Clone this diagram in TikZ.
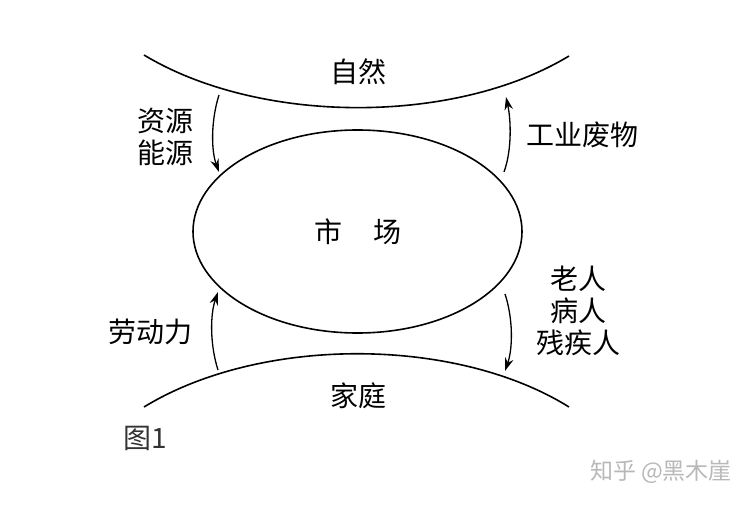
\documentclass[tikz,border=0pt]{standalone}
\usepackage{fontspec}
\newfontfamily\cjk{Noto Sans CJK SC}
\usetikzlibrary{arrows.meta, positioning}

\begin{document}
\begin{tikzpicture}[x=1pt, y=-1pt, >={Stealth[length=13pt, width=8.5pt]},
    flow/.style={->, line width=1.3pt},
    rim/.style={line width=1.6pt},
    lbl/.style={font=\cjk\fontsize{28}{32}\selectfont, align=center, inner sep=0pt}]
    \useasboundingbox (0,0) rectangle (749,505);
    % the two outer curves and the market
    \coordinate (natL) at (144,55);
    \coordinate (natR) at (569,56);
    \coordinate (famL) at (144,407);
    \coordinate (famR) at (569,407);
    \draw[rim] (natL) .. controls (260,125) and (455,125) .. (natR);
    \draw[rim] (famL) .. controls (260,336) and (455,336) .. (famR);
    \draw[rim] (357.5,231.5) ellipse (164.5 and 101.5);
    \node[lbl] (market) at (358,232) {市\hspace{1.1em}场};
    \node[lbl] (nature) at (358,72) {自然};
    \node[lbl] (family) at (358,396) {家庭};
    % flows between them
    \coordinate (resA) at (219,95);
    \coordinate (resB) at (219,172);
    \coordinate (wasA) at (504,172);
    \coordinate (wasB) at (506,97);
    \coordinate (labA) at (218,370);
    \coordinate (labB) at (218,292);
    \coordinate (oldA) at (505,294);
    \coordinate (oldB) at (505,371);
    \draw[flow] (resA) .. controls (211,120) and (211,150) .. (resB);
    \draw[flow] (wasA) .. controls (512,150) and (511,120) .. (wasB);
    \draw[flow] (labA) .. controls (210,345) and (210,315) .. (labB);
    \draw[flow] (oldA) .. controls (513,318) and (513,348) .. (oldB);
    \node[lbl] (resources) at (165,137) {资源\\能源};
    \node[lbl] (waste) at (582,135) {工业废物};
    \node[lbl] (labour) at (150,332) {劳动力};
    \node[lbl] (elderly) at (578,311) {老人\\病人\\残疾人};
    % caption and mark
    \node[lbl, text=black!80] (caption) at (145,438) {图1};
    \node[lbl, font=\cjk\fontsize{23}{26}\selectfont, text=black!28] (mark) at (661,472) {知乎 @黑木崖};
\end{tikzpicture}
\end{document}
